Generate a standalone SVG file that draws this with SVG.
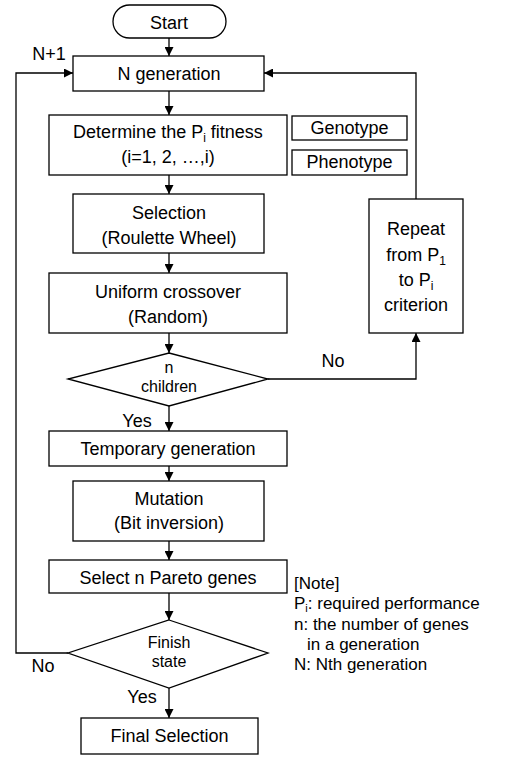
<svg xmlns="http://www.w3.org/2000/svg" width="505" height="757" viewBox="0 0 505 757">
<style>
.s{fill:#fff;stroke:#000;stroke-width:1.3}
.c{fill:none;stroke:#000;stroke-width:1.3}
text{font-family:"Liberation Sans",Arial,sans-serif;font-size:18px;fill:#000}
.m{text-anchor:middle}
.d{font-size:16px}
.n{font-size:17px}
.sub{font-size:12px}
.sn{font-size:11px}
</style>
<defs>
<marker id="a" viewBox="0 0 10 10" refX="10" refY="5" markerWidth="9" markerHeight="9" markerUnits="userSpaceOnUse" orient="auto">
<path d="M0,0 L10,5 L0,10 Z" fill="#000"/>
</marker>
</defs>
<rect width="505" height="757" fill="#fff"/>
<g id="connectors">
<line class="c" x1="169" y1="38" x2="169" y2="56" marker-end="url(#a)"/>
<line class="c" x1="169" y1="91" x2="169" y2="115" marker-end="url(#a)"/>
<line class="c" x1="169" y1="175" x2="169" y2="194" marker-end="url(#a)"/>
<line class="c" x1="169" y1="253" x2="169" y2="273" marker-end="url(#a)"/>
<line class="c" x1="169" y1="333" x2="169" y2="353" marker-end="url(#a)"/>
<line class="c" x1="169" y1="406" x2="169" y2="431" marker-end="url(#a)"/>
<line class="c" x1="169" y1="466" x2="169" y2="481" marker-end="url(#a)"/>
<line class="c" x1="169" y1="541" x2="169" y2="560" marker-end="url(#a)"/>
<line class="c" x1="169" y1="593" x2="169" y2="620" marker-end="url(#a)"/>
<line class="c" x1="169" y1="688" x2="169" y2="718" marker-end="url(#a)"/>
<polyline class="c" points="268,379 416,379 416,333" marker-end="url(#a)"/>
<polyline class="c" points="416,199 416,73 264,73" marker-end="url(#a)"/>
<polyline class="c" points="68,653 16,653 16,73 73,73" marker-end="url(#a)"/>
<text class="m" x="49" y="60">N+1</text>
<text class="m" x="333" y="367">No</text>
<text class="m" x="137" y="427">Yes</text>
<text class="m" x="43" y="672">No</text>
<text class="m" x="142" y="703">Yes</text>
</g>
<g id="start">
<rect class="s" x="113" y="5" width="113" height="33" rx="16.5"/>
<text class="m" x="169" y="29">Start</text>
</g>
<g id="ngen">
<rect class="s" x="73" y="56" width="191" height="35"/>
<text class="m" x="169" y="80">N generation</text>
</g>
<g id="determine">
<rect class="s" x="49" y="115" width="238" height="60"/>
<text class="m" x="168" y="138">Determine the P<tspan class="sub" dy="4">i</tspan><tspan dy="-4"> fitness</tspan></text>
<text class="m" x="168" y="163">(i=1, 2, …,i)</text>
</g>
<g id="genotype">
<rect class="s" x="292" y="116" width="115" height="24"/>
<text class="m" x="349.5" y="134">Genotype</text>
</g>
<g id="phenotype">
<rect class="s" x="292" y="150" width="115" height="25"/>
<text class="m" x="349.5" y="168">Phenotype</text>
</g>
<g id="selection">
<rect class="s" x="73" y="194" width="191" height="59"/>
<text class="m" x="169" y="219">Selection</text>
<text class="m" x="169" y="244">(Roulette Wheel)</text>
</g>
<g id="crossover">
<rect class="s" x="49" y="273" width="238" height="60"/>
<text class="m" x="168" y="298">Uniform crossover</text>
<text class="m" x="168" y="323">(Random)</text>
</g>
<g id="children">
<polygon class="s" points="169,353 268,379 169,406 68,379"/>
<text class="m d" x="169" y="373">n</text>
<text class="m d" x="169" y="392">children</text>
</g>
<g id="repeat">
<rect class="s" x="369" y="199" width="94" height="134"/>
<text class="m" x="416" y="235">Repeat</text>
<text class="m" x="416" y="261">from P<tspan class="sub" dy="4">1</tspan></text>
<text class="m" x="416" y="286">to P<tspan class="sub" dy="4">i</tspan></text>
<text class="m" x="416" y="311">criterion</text>
</g>
<g id="temporary">
<rect class="s" x="49" y="431" width="238" height="35"/>
<text class="m" x="168" y="455">Temporary generation</text>
</g>
<g id="mutation">
<rect class="s" x="73" y="481" width="191" height="60"/>
<text class="m" x="169" y="505">Mutation</text>
<text class="m" x="169" y="529">(Bit inversion)</text>
</g>
<g id="pareto">
<rect class="s" x="49" y="560" width="238" height="33"/>
<text class="m" x="168" y="584">Select n Pareto genes</text>
</g>
<g id="finish">
<polygon class="s" points="169,620 268,653 169,688 68,653"/>
<text class="m d" x="169" y="648">Finish</text>
<text class="m d" x="169" y="667">state</text>
</g>
<g id="final">
<rect class="s" x="81" y="718" width="177" height="36"/>
<text class="m" x="169.5" y="742">Final Selection</text>
</g>
<g id="note">
<text class="n" x="294" y="589">[Note]</text>
<text class="n" x="294" y="609">P<tspan class="sn" dy="2.5">i</tspan><tspan dy="-2.5">: required performance</tspan></text>
<text class="n" x="294" y="630">n: the number of genes</text>
<text class="n" x="307" y="650">in a generation</text>
<text class="n" x="294" y="670">N: Nth generation</text>
</g>
</svg>
